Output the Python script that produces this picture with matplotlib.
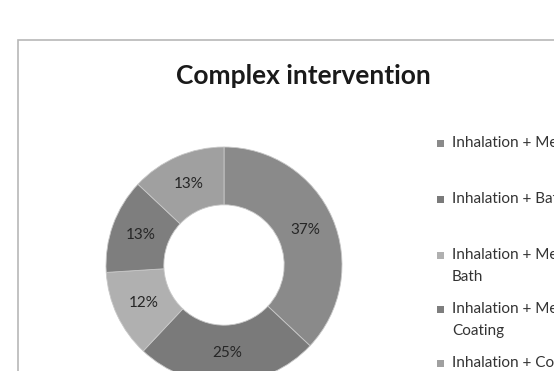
import matplotlib.pyplot as plt
from matplotlib.patches import Rectangle

## Data
labels = ['Inhalation + Medication', 'Inhalation + Bath + Medication',
          'Inhalation + Medication +\nBath', 'Inhalation + Medication +\nCoating',
          'Inhalation + Coating']
values = [37, 25, 12, 13, 13]
colors = ['#8a8a8a', '#7a7a7a', '#b0b0b0', '#7e7e7e', '#a0a0a0']
title = 'Complex intervention'

W, H = 554, 371
fig = plt.figure(figsize=(W / 100, H / 100), dpi=100)
fig.patch.set_facecolor('white')

# chart area frame (runs off the right and bottom edges, as in the screenshot)
fig.patches.append(Rectangle((18 / W, -0.1), 1.0, 1 - 40 / H + 0.1,
                             transform=fig.transFigure, fill=False,
                             edgecolor='#b8b8b8', linewidth=1.2))

fig.text(303 / W, 1 - 76 / H, title, ha='center', va='center',
         fontsize=19, fontweight='bold', family='Lato', color='#1a1a1a')

# donut: centre (224, 265) px, outer radius 118 px
cx, cy, r = 224, 265, 118
ax = fig.add_axes([(cx - r) / W, 1 - (cy + r) / H, 2 * r / W, 2 * r / H])
wedges, texts, autotexts = ax.pie(values, colors=colors, startangle=90,
                                  counterclock=False, radius=1,
                                  autopct='%1.0f%%', pctdistance=0.75,
                                  wedgeprops=dict(width=0.49, edgecolor='#c8c8c8', linewidth=0.6),
                                  textprops=dict(fontsize=11, family='Lato', color='#262626'))
ax.set_xlim(-1, 1)
ax.set_ylim(-1, 1)
ax.set_aspect('equal')
ax.axis('off')

# legend, laid out by hand like the Excel one
row_y = [143, 199, 255, 309, 363]
for lab, col, y in zip(labels, colors, row_y):
    fig.patches.append(Rectangle((437 / W, 1 - (y + 3.5) / H), 6.5 / W, 7 / H,
                                 transform=fig.transFigure, facecolor=col,
                                 edgecolor='none'))
    fig.text(452 / W, 1 - (y - 7) / H, lab, ha='left', va='top',
             fontsize=11, family='Lato', color='#333333', linespacing=1.7)

fig.savefig('out.png', dpi=100)
